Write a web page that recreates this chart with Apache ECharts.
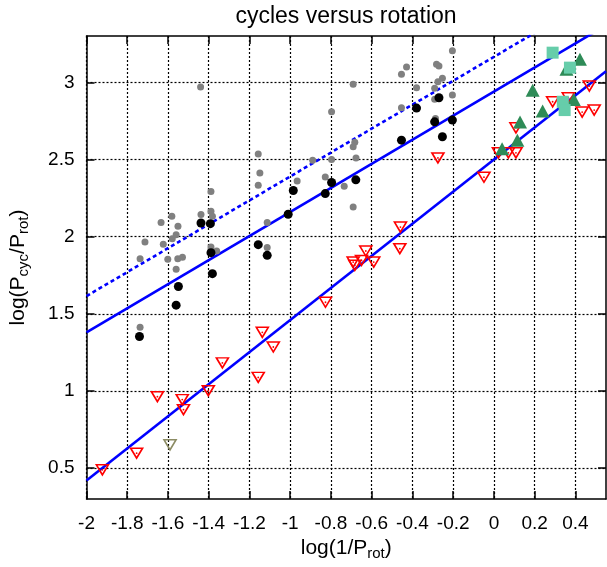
<!DOCTYPE html>
<html>
<head>
<meta charset="utf-8">
<title>cycles versus rotation</title>
<script src="https://cdn.jsdelivr.net/npm/echarts@6/dist/echarts.min.js"></script>
<style>
  html, body { margin: 0; padding: 0; background: #fff; }
  #chart { width: 607px; height: 567px; }
</style>
</head>
<body>
<div id="chart"></div>
<script>
// Tick positions
const xTicks = [-2, -1.8, -1.6, -1.4, -1.2, -1, -0.8, -0.6, -0.4, -0.2, 0, 0.2, 0.4];
const yTicks = [0.5, 1, 1.5, 2, 2.5, 3];
const xRange = [-2, 0.55];
const yRange = [0.3, 3.3];

// Small grey dots [log(1/Prot), log(Pcyc/Prot)]
const greyDots = [
  [-1.44, 2.97], [-1.157, 2.536], [-1.149, 2.413], [-1.157, 2.333], [-1.389, 2.292],
  [-1.581, 2.132], [-1.634, 2.091], [-1.438, 2.143], [-1.389, 2.164], [-1.382, 2.132],
  [-1.551, 2.067], [-1.560, 2.013], [-1.579, 1.987], [-1.623, 1.950], [-1.713, 1.965],
  [-1.389, 1.933], [-1.361, 1.907], [-1.737, 1.857], [-1.601, 1.853], [-1.552, 1.857],
  [-1.529, 1.866], [-1.560, 1.788], [-1.737, 1.413], [-1.113, 2.091], [-1.113, 1.929],
  [-0.966, 2.361], [-0.890, 2.495], [-0.797, 2.809], [-0.797, 2.500], [-0.828, 2.387],
  [-0.735, 2.327], [-0.691, 2.987], [-0.683, 2.612], [-0.691, 2.582], [-0.677, 2.510],
  [-0.691, 2.192], [-0.454, 2.835], [-0.454, 3.052], [-0.429, 3.099], [-0.380, 2.965],
  [-0.282, 3.117], [-0.270, 3.106], [-0.204, 3.205], [-0.275, 3.004], [-0.253, 3.026],
  [-0.291, 2.961], [-0.291, 2.890], [-0.204, 2.918], [-0.287, 2.766]
];

// Black dots
const blackDots = [
  [-1.438, 2.088], [-1.392, 2.084], [-1.389, 1.896], [-1.382, 1.760], [-1.549, 1.677],
  [-1.560, 1.556], [-1.740, 1.353], [-1.157, 1.948], [-1.113, 1.879], [-1.010, 2.145],
  [-0.985, 2.299], [-0.797, 2.351], [-0.828, 2.279], [-0.678, 2.368], [-0.454, 2.625],
  [-0.380, 2.833], [-0.270, 2.900], [-0.291, 2.744], [-0.204, 2.755], [-0.253, 2.647]
];

// Open red inverted triangles
const redTriangles = [
  [-1.922, 0.489], [-1.754, 0.597], [-1.652, 0.963], [-1.530, 0.944], [-1.524, 0.879],
  [-1.402, 1.002], [-1.333, 1.182], [-1.157, 1.088], [-1.137, 1.380], [-1.083, 1.285],
  [-0.827, 1.575], [-0.691, 1.835], [-0.683, 1.814], [-0.650, 1.846], [-0.629, 1.907],
  [-0.590, 1.835], [-0.462, 1.922], [-0.459, 2.062], [-0.275, 2.510], [-0.049, 2.385],
  [0.022, 2.543], [0.071, 2.543], [0.108, 2.543], [0.108, 2.705], [0.288, 2.874],
  [0.365, 2.900], [0.433, 2.807], [0.492, 2.820], [0.468, 2.976]
];

// Open olive inverted triangle
const oliveTriangles = [[-1.590, 0.651]];

// Filled green triangles
const greenTriangles = [
  [0.422, 3.149], [0.356, 3.084], [0.190, 2.948], [0.239, 2.814],
  [0.392, 2.888], [0.128, 2.742], [0.115, 2.625], [0.040, 2.570]
];

// Filled teal squares
const tealSquares = [[0.288, 3.192], [0.373, 3.095], [0.338, 2.874], [0.347, 2.820]];

// Straight-line fits: y = intercept + slope * x
const fitLower = { intercept: 2.50, slope: 1.04 };
const fitUpper = { intercept: 2.94, slope: 0.78 };
const fitUpperDotted = { intercept: 3.165, slope: 0.775 };

function fitEnds(f) {
  return xRange.map(x => [x, f.intercept + f.slope * x]);
}

const FONT = 'Liberation Sans, Arial, Helvetica, sans-serif';
const BLUE = '#0000ff';

const chart = echarts.init(document.getElementById('chart'), null, { renderer: 'canvas' });

const gridLine = { show: true, lineStyle: { color: '#000', width: 1.2, type: [2, 2] } };

const option = {
  backgroundColor: '#fff',
  animation: false,
  textStyle: { fontFamily: FONT },
  graphic: [{
    type: 'text',
    x: 346, y: 17,
    style: {
      text: 'cycles versus rotation',
      font: '23px ' + FONT,
      fill: '#000',
      align: 'center',
      verticalAlign: 'middle'
    }
  }],
  grid: { left: 85, right: 1, top: 36, bottom: 68, containLabel: false },
  xAxis: [{
    type: 'value',
    position: 'bottom',
    min: xRange[0], max: xRange[1],
    axisLine: { show: true, onZero: false, lineStyle: { color: '#000', width: 1.5 } },
    axisTick: { show: true, inside: true, length: 8, customValues: xTicks, lineStyle: { color: '#000', width: 1.5 } },
    axisLabel: { customValues: xTicks, color: '#000', fontSize: 19, fontFamily: FONT, margin: 15 },
    splitLine: gridLine,
    name: '{a|log(1/P}{s|rot}{a|)}',
    nameLocation: 'middle',
    nameGap: 36,
    nameTextStyle: {
      rich: {
        a: { fontSize: 21, fontFamily: FONT, color: '#000', lineHeight: 26 },
        s: { fontSize: 15, fontFamily: FONT, color: '#000', lineHeight: 12, verticalAlign: 'bottom' }
      }
    }
  }, {
    type: 'value',
    position: 'top',
    min: xRange[0], max: xRange[1],
    axisLine: { show: true, onZero: false, lineStyle: { color: '#000', width: 1.5 } },
    axisTick: { show: true, inside: true, length: 8, customValues: xTicks, lineStyle: { color: '#000', width: 1.5 } },
    axisLabel: { show: false },
    splitLine: { show: false }
  }],
  yAxis: [{
    type: 'value',
    position: 'left',
    min: yRange[0], max: yRange[1],
    axisLine: { show: true, onZero: false, lineStyle: { color: '#000', width: 1.5 } },
    axisTick: { show: true, inside: true, length: 8, customValues: yTicks, lineStyle: { color: '#000', width: 1.5 } },
    axisLabel: { customValues: yTicks, color: '#000', fontSize: 19, fontFamily: FONT, margin: 12 },
    splitLine: gridLine,
    name: '{a|log(P}{s|cyc}{a|/P}{s|rot}{a|)}',
    nameLocation: 'middle',
    nameRotate: 90,
    nameGap: 55,
    nameTextStyle: {
      rich: {
        a: { fontSize: 21, fontFamily: FONT, color: '#000', lineHeight: 26 },
        s: { fontSize: 15, fontFamily: FONT, color: '#000', lineHeight: 12, verticalAlign: 'bottom' }
      }
    }
  }, {
    type: 'value',
    position: 'right',
    min: yRange[0], max: yRange[1],
    axisLine: { show: true, onZero: false, lineStyle: { color: '#000', width: 1.5 } },
    axisTick: { show: true, inside: true, length: 8, customValues: yTicks, lineStyle: { color: '#000', width: 1.5 } },
    axisLabel: { show: false },
    splitLine: { show: false }
  }],
  series: [
    {
      type: 'line', name: 'fit lower', data: fitEnds(fitLower), showSymbol: false, clip: true,
      lineStyle: { color: BLUE, width: 2.6 }, z: 2
    },
    {
      type: 'line', name: 'fit upper', data: fitEnds(fitUpper), showSymbol: false, clip: true,
      lineStyle: { color: BLUE, width: 2.6 }, z: 2
    },
    {
      type: 'line', name: 'fit upper dotted', data: fitEnds(fitUpperDotted), showSymbol: false, clip: true,
      lineStyle: { color: BLUE, width: 2.6, type: [4, 3] }, z: 2
    },
    {
      type: 'scatter', name: 'grey', data: greyDots, symbol: 'circle', symbolSize: 7,
      itemStyle: { color: '#808080', opacity: 1 }, z: 3
    },
    {
      type: 'scatter', name: 'black', data: blackDots, symbol: 'circle', symbolSize: 9,
      itemStyle: { color: '#000', opacity: 1 }, z: 4
    },
    {
      type: 'scatter', name: 'red', data: redTriangles, symbol: 'triangle', symbolRotate: 180, symbolSize: [12, 10],
      itemStyle: { color: 'rgba(255,255,255,0)', borderColor: '#ff0000', borderWidth: 1.6, opacity: 1 }, z: 5
    },
    {
      type: 'scatter', name: 'red centre', data: redTriangles, symbol: 'circle', symbolSize: 1.8,
      itemStyle: { color: '#ff0000', opacity: 1 }, z: 5
    },
    {
      type: 'scatter', name: 'olive', data: oliveTriangles, symbol: 'triangle', symbolRotate: 180, symbolSize: [12, 10],
      itemStyle: { color: 'rgba(255,255,255,0)', borderColor: '#8c8c64', borderWidth: 1.6, opacity: 1 }, z: 5
    },
    {
      type: 'scatter', name: 'green', data: greenTriangles, symbol: 'triangle', symbolSize: [14, 13],
      itemStyle: { color: '#2e8b57', opacity: 1 }, z: 6
    },
    {
      type: 'scatter', name: 'teal', data: tealSquares, symbol: 'rect', symbolSize: 12,
      itemStyle: { color: '#66cdaa', opacity: 1 }, z: 6
    }
  ]
};

chart.setOption(option);
</script>
</body>
</html>
